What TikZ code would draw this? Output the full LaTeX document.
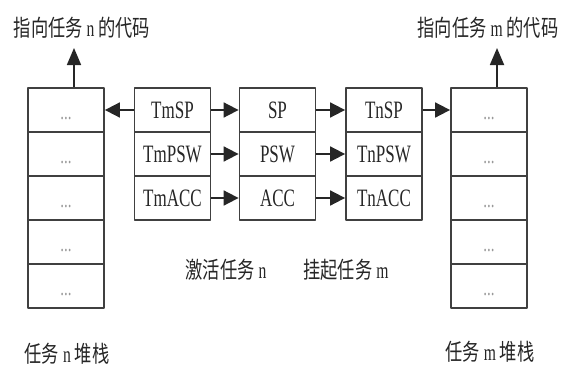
\documentclass[tikz,border=0pt]{standalone}
\usepackage{fontspec}
\setmainfont{Liberation Serif}[FakeStretch=0.68]
\newfontfamily\cjk{Noto Sans CJK SC}[FakeStretch=0.75]
\usetikzlibrary{arrows.meta}

\tikzset{
    cell/.style={draw=black!75, line width=1.8pt, minimum width=76pt, minimum height=44pt, inner sep=0pt},
    regcell/.style={cell, font=\fontsize{25}{25}\selectfont, text=black!85},
    dotcell/.style={cell, font=\fontsize{22}{22}\selectfont, text=black!40, text height=18pt, text depth=0pt},
    link/.style={draw=black!85, line width=1.8pt, -{Triangle[length=15pt, width=15pt]}},
    uplink/.style={link, -{Triangle[length=17pt, width=14pt]}},
    cnlabel/.style={font=\cjk\fontsize{23}{23}\selectfont, text=black!85, inner sep=0pt}
}

\begin{document}
\begin{tikzpicture}[x=1pt, y=-1pt, line join=round]
    \useasboundingbox (0,0) rectangle (563,372);

    % Stacks of task n and task m
    \foreach \i in {1,...,5} {
        \node[dotcell] (stkn\i) at (66, 66+44*\i) {...};
        \node[dotcell] (stkm\i) at (489, 66+44*\i) {...};
    }

    % Register columns
    \foreach \i/\a/\b/\c in {1/TmSP/SP/TnSP, 2/TmPSW/PSW/TnPSW, 3/TmACC/ACC/TnACC} {
        \node[regcell] (tm\i) at (172.5, 66+44*\i) {\a};
        \node[regcell] (cur\i) at (277.5, 66+44*\i) {\b};
        \node[regcell] (tn\i) at (384, 66+44*\i) {\c};
    }

    % Links between registers
    \foreach \i in {1,2,3} {
        \draw[link] (tm\i) -- (cur\i);
        \draw[link] (cur\i) -- (tn\i);
    }
    \draw[link] (tm1) -- (stkn1);
    \draw[link] (tn1) -- (stkm1);

    % Code pointers
    \coordinate (ncode) at (74,48);
    \coordinate (mcode) at (497,48);
    \draw[uplink] (stkn1.north -| ncode) -- (ncode);
    \draw[uplink] (stkm1.north -| mcode) -- (mcode);

    % Labels
    \node[cnlabel] (ncodelbl) at (82,28) {指向任务 {\rmfamily n} 的代码};
    \node[cnlabel] (mcodelbl) at (488,28) {指向任务 {\rmfamily m} 的代码};
    \node[cnlabel] (actlbl) at (226,270) {激活任务 {\rmfamily n}};
    \node[cnlabel] (suslbl) at (346,270) {挂起任务 {\rmfamily m}};
    \node[cnlabel] (nstklbl) at (67,354) {任务 {\rmfamily n} 堆栈};
    \node[cnlabel] (mstklbl) at (490,352) {任务 {\rmfamily m} 堆栈};
\end{tikzpicture}
\end{document}
